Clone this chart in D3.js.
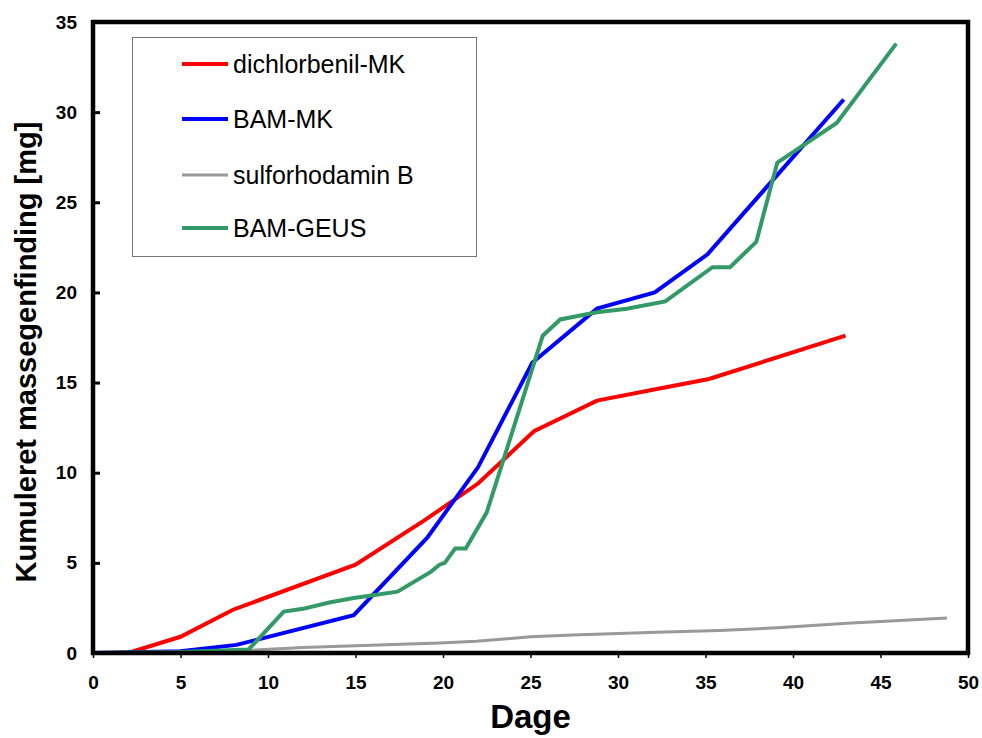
<!DOCTYPE html>
<html>
<head>
<meta charset="utf-8">
<script src="https://cdn.jsdelivr.net/npm/d3@7"></script>
<style>
  html, body { margin: 0; padding: 0; background: #fff; }
  svg { display: block; }
</style>
</head>
<body>
<svg id="chart" width="982" height="738"></svg>
<script>
// Cumulative mass recovery per compound over days
const redX   = [0, 2, 5, 8, 15, 19, 22, 25.2, 28.8, 32, 35.2, 43];
const redY   = [0, 0, 0.9, 2.4, 4.9, 7.4, 9.4, 12.3, 14.0, 14.6, 15.2, 17.6];

const blueX  = [0, 5, 8.2, 14.9, 19.1, 22, 25.1, 28.8, 32.1, 35.1, 42.9];
const blueY  = [0, 0.1, 0.45, 2.1, 6.4, 10.3, 16.1, 19.1, 20.0, 22.1, 30.7];

const grayX  = [0, 5, 9, 12, 15, 19.8, 21.9, 25, 27.4, 32.2, 35.8, 39.1, 43.1, 48.8];
const grayY  = [0, 0.05, 0.15, 0.3, 0.4, 0.55, 0.65, 0.9, 1.0, 1.15, 1.25, 1.4, 1.65, 1.94];

const greenX = [0, 5, 8.9, 10.9, 12, 13.5, 14.9, 16, 17.4, 19.3, 19.8, 20.1, 20.7, 21.3, 21.9, 22.5,
                25.7, 26.7, 28.8, 30.5, 32.7, 35.4, 36.4, 37.9, 39.1, 42.5, 45.9];
const greenY = [0, 0.05, 0.2, 2.3, 2.45, 2.8, 3.05, 3.2, 3.4, 4.5, 4.9, 5.0, 5.8, 5.8, 6.8, 7.8,
                17.6, 18.5, 18.9, 19.1, 19.5, 21.4, 21.4, 22.8, 27.2, 29.4, 33.8];

const seriesNames = ["dichlorbenil-MK", "BAM-MK", "sulforhodamin B", "BAM-GEUS"];
const xTicks = [0, 5, 10, 15, 20, 25, 30, 35, 40, 45, 50];
const yTicks = [0, 5, 10, 15, 20, 25, 30, 35];

const series = [
  { name: seriesNames[0], xs: redX,   ys: redY,   color: "#ff0000", width: 4 },
  { name: seriesNames[1], xs: blueX,  ys: blueY,  color: "#0000ff", width: 4 },
  { name: seriesNames[2], xs: grayX,  ys: grayY,  color: "#999999", width: 3 },
  { name: seriesNames[3], xs: greenX, ys: greenY, color: "#339966", width: 4 }
];

const svg = d3.select("#chart");
const plotL = 93, plotR = 968, plotT = 22, plotB = 653;

const x = d3.scaleLinear().domain([0, 50]).range([plotL, plotR]);
const y = d3.scaleLinear().domain([0, 35]).range([plotB, plotT]);

const font = "Liberation Sans, Arial, Helvetica, sans-serif";

// Lines (gray underneath, then red, blue, green on top)
const line = d3.line().x(d => x(d[0])).y(d => y(d[1]));
const drawOrder = [2, 0, 1, 3];
drawOrder.forEach(i => {
  const s = series[i];
  svg.append("path")
    .datum(s.xs.map((v, k) => [v, s.ys[k]]))
    .attr("fill", "none")
    .attr("stroke", s.color)
    .attr("stroke-width", s.width)
    .attr("stroke-linejoin", "miter")
    .attr("d", line);
});

// X axis: small outward ticks
const xAxis = d3.axisBottom(x).tickValues(xTicks).tickSize(5).tickPadding(18).tickSizeOuter(0);
const gx = svg.append("g").attr("transform", `translate(0,${plotB})`).call(xAxis);
gx.select(".domain").remove();
gx.selectAll(".tick line").attr("stroke", "#000").attr("stroke-width", 1.5);
gx.selectAll(".tick text")
  .attr("font-family", font).attr("font-weight", "bold").attr("font-size", 19).attr("fill", "#000");

// Y axis: inward ticks
const yAxis = d3.axisLeft(y).tickValues(yTicks).tickSize(-7).tickPadding(16).tickSizeOuter(0);
const gy = svg.append("g").attr("transform", `translate(${plotL},0)`).call(yAxis);
gy.select(".domain").remove();
gy.selectAll(".tick line").attr("stroke", "#000").attr("stroke-width", 3);
gy.selectAll(".tick text")
  .attr("font-family", font).attr("font-weight", "bold").attr("font-size", 19).attr("fill", "#000");

// Plot frame
svg.append("rect")
  .attr("x", plotL).attr("y", plotT)
  .attr("width", plotR - plotL).attr("height", plotB - plotT)
  .attr("fill", "none").attr("stroke", "#000").attr("stroke-width", 4.5);

// Axis titles
svg.append("text")
  .attr("x", (plotL + plotR) / 2).attr("y", 728)
  .attr("text-anchor", "middle")
  .attr("font-family", font).attr("font-weight", "bold").attr("font-size", 33)
  .text("Dage");

svg.append("text")
  .attr("transform", "translate(36,352) rotate(-90)")
  .attr("text-anchor", "middle")
  .attr("font-family", font).attr("font-weight", "bold").attr("font-size", 29)
  .text("Kumuleret massegenfinding [mg]");

// Legend
const lg = svg.append("g");
lg.append("rect")
  .attr("x", 132.5).attr("y", 37.5).attr("width", 344).attr("height", 219)
  .attr("fill", "#fff").attr("stroke", "#777").attr("stroke-width", 1);
const rowY = [64, 119, 175, 228];
series.forEach((s, i) => {
  lg.append("line")
    .attr("x1", 182).attr("x2", 228)
    .attr("y1", rowY[i]).attr("y2", rowY[i])
    .attr("stroke", s.color).attr("stroke-width", s.width);
  lg.append("text")
    .attr("x", 233).attr("y", rowY[i] + 9)
    .attr("font-family", font).attr("font-size", 25).attr("fill", "#000")
    .text(s.name);
});
</script>
</body>
</html>
